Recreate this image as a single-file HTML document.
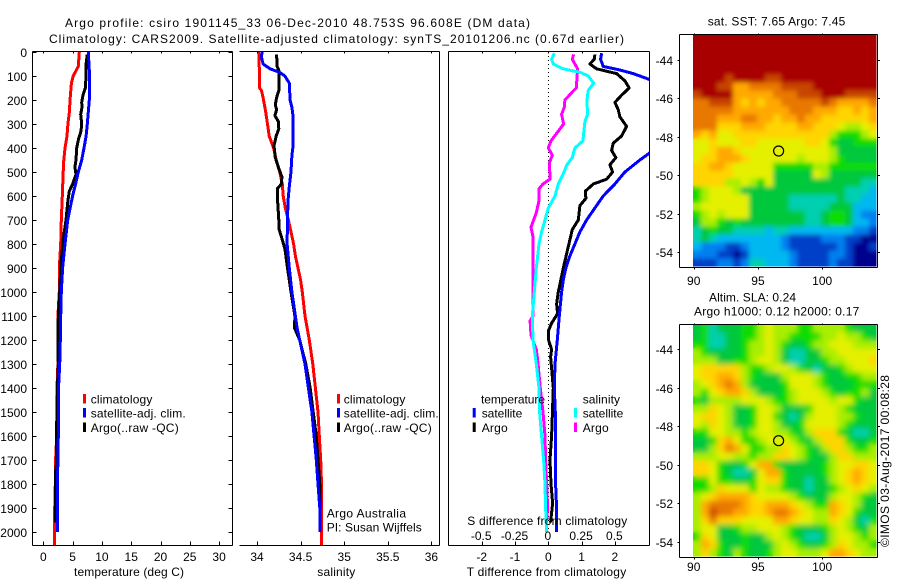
<!DOCTYPE html>
<html>
<head>
<meta charset="utf-8">
<title>Argo profile chart</title>
<style>
html,body{margin:0;padding:0;background:#fff;}
svg{display:block;}
text{font-family:"Liberation Sans",sans-serif;font-size:12px;fill:#000;}
</style>
</head>
<body>
<svg id="chart" xmlns="http://www.w3.org/2000/svg" width="900" height="580" viewBox="0 0 900 580">
<defs>
<clipPath id="clipT"><rect x="33" y="52" width="199" height="493"/></clipPath>
<clipPath id="clipS"><rect x="240" y="52" width="199" height="493"/></clipPath>
<clipPath id="clipD"><rect x="449" y="52" width="200" height="493"/></clipPath>
<clipPath id="clipM1"><rect x="693" y="35" width="183.5" height="231.5"/></clipPath>
<clipPath id="clipM2"><rect x="693" y="325" width="183.5" height="231.5"/></clipPath>
<filter id="softA" x="-5%" y="-5%" width="110%" height="110%"><feGaussianBlur stdDeviation="2.4"/></filter>
<filter id="softB" x="-5%" y="-5%" width="110%" height="110%"><feGaussianBlur stdDeviation="3"/></filter>
</defs>
<rect x="0" y="0" width="900" height="580" fill="#fff"/>
<text x="65" y="27" textLength="465">Argo profile: csiro 1901145_33 06-Dec-2010 48.753S 96.608E (DM data)</text>
<text x="49" y="43" textLength="575">Climatology: CARS2009. Satellite-adjusted climatology: synTS_20101206.nc (0.67d earlier)</text>
<g id="maps"></g>
<g id="lines"></g>
<g id="axes"></g>

<text x="74" y="576" textLength="110">temperature (deg C)</text>
<text x="317.3" y="576" textLength="38">salinity</text>
<text x="466.7" y="576" textLength="159.5">T difference from climatology</text>
<text x="467.3" y="525" textLength="160">S difference from climatology</text>

<g>
<rect x="83" y="394" width="3" height="9.5" fill="#f00"/>
<rect x="83" y="408" width="3" height="9.5" fill="#00f"/>
<rect x="83" y="422.5" width="3" height="9.5" fill="#000"/>
<text x="90.7" y="403.3" textLength="61.7">climatology</text>
<text x="90.7" y="417.5" textLength="95">satellite-adj. clim.</text>
<text x="90.7" y="432" textLength="88">Argo(..raw -QC)</text>
</g>
<g>
<rect x="337" y="394" width="3" height="9.5" fill="#f00"/>
<rect x="337" y="408" width="3" height="9.5" fill="#00f"/>
<rect x="337" y="422.5" width="3" height="9.5" fill="#000"/>
<text x="343.7" y="403.3" textLength="61.7">climatology</text>
<text x="343.7" y="417.5" textLength="95">satellite-adj. clim.</text>
<text x="343.7" y="432" textLength="88">Argo(..raw -QC)</text>
</g>
<text x="326.7" y="517.7" textLength="79.3">Argo Australia</text>
<text x="326.7" y="531.7" textLength="95">PI: Susan Wijffels</text>

<g>
<text x="481" y="403.3" textLength="64">temperature</text>
<text x="582.7" y="403.3" textLength="37.3">salinity</text>
<rect x="472.7" y="408" width="3" height="9.5" fill="#00f"/>
<rect x="472.7" y="422.5" width="3" height="9.5" fill="#000"/>
<rect x="574" y="408" width="3" height="9.5" fill="#0ff"/>
<rect x="574" y="422.5" width="3" height="9.5" fill="#f0f"/>
<text x="481.7" y="417.5" textLength="40.6">satellite</text>
<text x="481.7" y="432" textLength="26">Argo</text>
<text x="582.7" y="417.5" textLength="40.6">satellite</text>
<text x="582.7" y="432" textLength="26">Argo</text>
</g>

<text x="707.7" y="25.7" textLength="137.6">sat. SST: 7.65 Argo: 7.45</text>
<text x="709" y="301.7" textLength="87">Altim. SLA: 0.24</text>
<text x="694" y="315.7" textLength="165.3">Argo h1000: 0.12 h2000: 0.17</text>
<text transform="translate(889 547) rotate(-90)" x="0" y="0" textLength="172">©IMOS 03-Aug-2017 00:08:28</text>
</svg>
<script>
// ---- profile data: depth (m) and value, one small array per series ----
const depthTicks = [0,100,200,300,400,500,600,700,800,900,1000,1100,1200,1300,1400,1500,1600,1700,1800,1900,2000];
const tempTicks = [0,5,10,15,20,25,30];
const salTicks = [34,34.5,35,35.5,36];
const tDiffTicks = [-2,-1,0,1,2];
const sDiffTicks = [-0.5,-0.25,0,0.25,0.5];
const sDiffTickLabels = ["-0.5","-0.25","0","0.25","0.5"];
const lonTicks = [90,95,100];
const latTicks = [44,46,48,50,52,54];

const tempClimDepth = [0,60,100,130,200,250,300,350,400,450,500,600,700,800,900,1000,1100,1200,1300,1400,1600,1700,1800,1900,2056];
const tempClim = [6.15,5.97,5.1,4.8,4.55,4.45,4.2,4.05,3.7,3.5,3.4,3.25,3.07,2.97,2.73,2.73,2.5,2.5,2.5,2.34,2.28,2.1,2.05,1.95,1.95];
const tempSatDepth = [0,100,200,250,300,350,400,450,500,550,600,700,800,900,1000,1100,1200,1300,1400,1600,1700,1800,1900,2000];
const tempSat = [7.68,7.9,7.85,7.68,7.5,7.3,6.95,6.55,5.97,5.52,5.0,4.16,3.7,3.3,3.07,2.97,2.9,2.8,2.6,2.56,2.5,2.4,2.4,2.4];
const tempArgoDepth = [10,50,100,150,180,210,230,260,300,330,360,400,450,480,510,550,580,620,700,780,850,900,1000,1100,1200,1300,1400,1550,1700,1750,1900,1960];
const tempArgo = [7.5,7.3,7.3,7.17,6.77,6.55,6.6,6.38,6.55,6.43,6.04,5.7,5.58,5.4,5.58,5.0,4.44,4.2,3.87,3.4,3.14,2.97,2.8,2.56,2.5,2.56,2.4,2.28,2.28,2.1,2.1,2.1];

const salClimDepth = [0,100,150,160,190,250,300,350,400,450,500,550,600,650,700,750,800,850,900,950,1000,1100,1200,1300,1400,1500,1600,1700,1800,2056];
const salClim = [34.02,34.03,34.03,34.05,34.07,34.10,34.12,34.14,34.19,34.22,34.26,34.29,34.30,34.325,34.36,34.39,34.42,34.44,34.47,34.5,34.52,34.55,34.60,34.64,34.67,34.70,34.715,34.73,34.74,34.74];
const salSatDepth = [0,20,50,70,85,100,130,200,230,260,400,430,500,560,620,700,800,900,1000,1100,1150,1200,1300,1400,1500,1600,1700,1800,1900,2000];
const salSat = [34.06,34.05,34.07,34.15,34.26,34.32,34.37,34.38,34.40,34.41,34.41,34.40,34.39,34.37,34.355,34.35,34.345,34.37,34.40,34.44,34.46,34.49,34.55,34.59,34.63,34.655,34.68,34.70,34.72,34.725];
const salArgoDepth = [10,60,80,120,160,190,220,240,265,290,320,350,390,440,480,520,550,570,600,700,740,770,820,900,1000,1100,1150,1200,1300,1400,1500,1600,1700,1800,1900,1960];
const salArgo = [34.225,34.23,34.255,34.25,34.25,34.225,34.21,34.225,34.205,34.245,34.25,34.22,34.195,34.21,34.245,34.285,34.28,34.233,34.233,34.25,34.255,34.28,34.32,34.35,34.39,34.435,34.43,34.49,34.56,34.61,34.645,34.68,34.70,34.72,34.725,34.725];

const dTSatDepth = [5,30,60,75,90,110,130,200,300,400,425,450,500,550,600,650,700,750,800,850,900,950,1000,1100,1200,1300,1400,1500,1600,1800,1900,2000];
const dTSat = [1.6,1.57,1.65,2.15,2.55,2.95,3.3,3.8,3.8,3.2,3.0,2.75,2.3,2.0,1.65,1.4,1.15,0.95,0.8,0.65,0.53,0.45,0.4,0.33,0.27,0.2,0.18,0.21,0.22,0.22,0.25,0.24];
const dTArgoDepth = [10,30,50,70,90,120,150,180,210,240,270,310,350,380,410,440,470,500,530,550,580,610,640,700,740,800,900,1000,1050,1090,1130,1160,1200,1240,1270,1400,1600,1700,1800,1880,1960];
const dTArgo = [1.4,1.38,1.25,1.45,2.05,2.3,2.43,2.2,2.0,2.1,2.15,2.35,2.2,1.95,1.9,2.03,1.85,1.93,1.75,1.35,1.11,1.13,0.95,0.9,0.72,0.62,0.45,0.3,0.25,0.28,0.1,0.01,0.01,0.1,0.07,0.15,0.1,0.05,0.08,0.13,0.07];
const dSSatDepth = [5,30,50,70,85,100,130,160,200,260,290,370,400,440,470,510,550,600,650,700,750,800,900,1000,1100,1200,1300,1400,1500,1600,1700,1800,1900,2000];
const dSSat = [0.045,0.025,0.0375,0.11,0.24,0.3,0.34,0.3,0.29,0.295,0.275,0.26,0.2,0.18,0.14,0.11,0.075,0.05,0,-0.025,-0.05,-0.07,-0.09,-0.105,-0.12,-0.115,-0.09,-0.07,-0.065,-0.05,-0.035,-0.025,-0.02,-0.012];
const dSArgoDepth = [10,30,50,70,150,170,200,230,260,300,330,370,400,430,460,530,550,570,620,670,730,770,850,1000,1100,1120,1180,1240,1280,1400,1500,1600,1700,1800,1900,1970];
const dSArgo = [0.19,0.18,0.2,0.22,0.21,0.175,0.125,0.12,0.1,0.115,0.075,0.02,0,0.03,0.01,0.012,-0.04,-0.07,-0.07,-0.09,-0.13,-0.115,-0.115,-0.115,-0.115,-0.137,-0.13,-0.09,-0.08,-0.06,-0.04,-0.025,-0.02,-0.012,-0.005,-0.015];

// ---- map grids: each character is one cell's colour level, north at the top ----
const sstRows = [
"nnnnnnnnnnnnnnnnnnnnnnn","nnnnnnnnnnnnnnnnnnnnnnn","nnnnnnnnnnnnnnnnnnnnnnn","nnnnnnnnnnnnnnnnnnnnnnn","nnnnnnnnnnnnnnnnnnnnnnn",
"nnnnmnnnnmmnnnnnnnnnnnn","nnnmmkkllllmmmmnnnnnnnn","mnnnnkkkkklllmmmnnnmmmm","llmmmkjkjkklllllmlkkkkl","lllllkkkkkkklllkkkjjkjk",
"lllkkkllkkjkklkkjjjjjjk","llljjjkkkjjjjkkjjjihhij","kjkiijjjjjjjjjjjjhggghi","iijiiijjiiiiiijjigffggg","iijkkjiiiiiiiiiiihfffff",
"ijjkkkjiiiiiihiiihgffff","jjkkjiiiiiggggghhgggggg","jjjjjiiiiifffffihffffff","jjjjhhihgifffffffffffee","ghiiihfffffffffffffeeed",
"ghiiiiifffffeeeeeefeedd","hiiiiiifffffeeeeefffddd","ghihiiifffffffeefggfdcc","fhhgfgffffffffeefggfddc","efgffeeeedeeddddddddccb",
"efeddddddddcbbbbcccbbaa","dcccbbcddddcbbbbbbcbaab","cccbbabdddddcbbbbccbaaa","bbbccbceedddcbbbbcbbaaa"];
const slaRows = [
"fgefffgghihhhgghhhhgfff","fgeeffgghihhgggghhihhgf","ggeeffghhihgffghhiiihhh","hgffffghhihfeeffhhiiiii","hhhffgghiihfeeffghhiiij",
"ijjjjjhgghiihgfeffghiii","ijjkkjhgfffhiiihgffgghh","hijklkhffffgiiihgfffggg","hgijkkjhfffghiiihgfgghf","gfhhhhiiihgghiiiihiigff",
"hhjihffgiihfffgiiihgfff","ijjihffgiigfefhiiihhgff","ihjihffgiihffgiiiihgfff","ggiihhghiihhgfhjjjgfeef","ffgjkigghiiihgfhjjjgffg",
"ffhjlkigghhjihgfhjjhggh","hhhiihhghhjjihgffhjjhhh","jjigffgikkgfffffghiijji","jjigfeefikkgffffghijkji","ggiggffgijjgffeffhijkji",
"gghjiiigihhgffeffghijih","hijkkkkjiiiihgfffhiihgf","hkllllkjjkkkjihggkjihff","hkmllkkjjkllkjihhkjigff","hjljjjiiiikkjiihhjihfeg",
"hiiffghhiiihgfffghihgfh","gjifffgffhihgfeefhiihgh","hkjgffgfffhihgffghjihhg","hjhgfhgffghiihhhikkjihh"];
const levelColors = {a:"#00008f",b:"#0040c8",c:"#0080f0",d:"#00b8f0",e:"#00cfb0",f:"#00c83c",g:"#10dc00",h:"#a8ee00",i:"#e4f000",j:"#ffd400",k:"#ffa800",l:"#e87800",m:"#c84400",n:"#a80000"};

// ---- axis functions ----
const svg = document.getElementById('chart');
const NS = 'http://www.w3.org/2000/svg';
const yDepth = d => 52 + 0.24 * d;
const xTemp = t => 43.3 + 5.86 * t;
const xSal = s => 257 + 87.2 * (s - 34);
const xTDiff = t => 548.3 + 33.3 * t;
const xSDiff = s => 548.3 + 133.2 * s;
const lonX = lon => 693.7 + 12.85 * (lon - 90);
const latY1 = lat => 59.5 + 19.25 * (lat - 44);
const latY2 = lat => 349.2 + 19.25 * (lat - 44);
const gMaps = document.getElementById('maps');
const gLines = document.getElementById('lines');
const gAxes = document.getElementById('axes');

function shape(parent, tag, attrs) {
  const el = document.createElementNS(NS, tag);
  for (const k in attrs) el.setAttribute(k, attrs[k]);
  parent.appendChild(el);
  return el;
}
function axisLine(x1, y1, x2, y2, label) {
  const el = shape(gAxes, 'line', {x1: x1, y1: y1, x2: x2, y2: y2, stroke: '#000', 'stroke-width': 1, 'shape-rendering': 'crispEdges'});
  
  
  return el;
}
function tickText(x, y, str, anchor, label) {
  const el = shape(gAxes, 'text', {x: x, y: y, 'text-anchor': anchor});
  el.textContent = str;
  
  
  return el;
}
function profile(depths, values, xFn, color, clip, label) {
  const pts = depths.map((d, i) => xFn(values[i]).toFixed(1) + ',' + yDepth(d).toFixed(1)).join(' ');
  const el = shape(gLines, 'polyline', {points: pts, fill: 'none', stroke: color, 'stroke-width': 3, 'stroke-linejoin': 'round', 'shape-rendering': 'crispEdges', 'clip-path': 'url(#' + clip + ')'});
  
  
  return el;
}
function heatCells(parent, rows, top) {
  rows.forEach((row, r) => {
    for (let c = 0; c < row.length; c++) {
      const cell = shape(parent, 'rect', {x: 693 + 8 * c, y: top + 8 * r, width: 8.2, height: 8.2, fill: levelColors[row[c]]});
      
      
    }
  });
}
function map(rows, top, clip, blur, label) {
  const outer = shape(gMaps, 'g', {'clip-path': 'url(#' + clip + ')'});
  
  
  const base = shape(outer, 'g', {});
  
  
  heatCells(base, rows, top);
  const soft = shape(outer, 'g', {filter: 'url(#' + blur + ')'});
  
  
  heatCells(soft, rows, top);
}

// ---- maps ----
map(sstRows, 34.5, 'clipM1', 'softA', 'sst-heatmap');
map(slaRows, 324.5, 'clipM2', 'softB', 'sla-heatmap');

// ---- profile lines ----
const zeroLine = shape(gLines, 'line', {x1: xTDiff(0), y1: 52, x2: xTDiff(0), y2: yDepth(2000), stroke: '#000', 'stroke-width': 1, 'stroke-dasharray': '1 3', 'shape-rendering': 'crispEdges'});


profile(tempClimDepth, tempClim, xTemp, '#f00', 'clipT', 'temperature-climatology-line');
profile(tempArgoDepth, tempArgo, xTemp, '#000', 'clipT', 'temperature-argo-line');
profile(tempSatDepth, tempSat, xTemp, '#00f', 'clipT', 'temperature-satellite-line');
profile(salClimDepth, salClim, xSal, '#f00', 'clipS', 'salinity-climatology-line');
profile(salArgoDepth, salArgo, xSal, '#000', 'clipS', 'salinity-argo-line');
profile(salSatDepth, salSat, xSal, '#00f', 'clipS', 'salinity-satellite-line');
profile(dSArgoDepth, dSArgo, xSDiff, '#f0f', 'clipD', 's-difference-argo-line');
profile(dSSatDepth, dSSat, xSDiff, '#0ff', 'clipD', 's-difference-satellite-line');
profile(dTArgoDepth, dTArgo, xTDiff, '#000', 'clipD', 't-difference-argo-line');
profile(dTSatDepth, dTSat, xTDiff, '#00f', 'clipD', 't-difference-satellite-line');

// ---- panel frames ----
const B = 545.5, T = 51.5;
axisLine(32.5, T, 232.5, T, 'temperature-top-axis');
axisLine(32.5, B, 232.5, B, 'temperature-bottom-axis');
axisLine(32.5, T, 32.5, B, 'depth-axis');
axisLine(232.5, T, 232.5, B, 'temperature-right-axis');
axisLine(239.5, T, 439.5, T, 'salinity-top-axis');
axisLine(239.5, B, 439.5, B, 'salinity-bottom-axis');
axisLine(439.5, T, 439.5, B, 'salinity-right-axis');
axisLine(448.5, T, 649.5, T, 'difference-top-axis');
axisLine(448.5, B, 649.5, B, 'difference-bottom-axis');
axisLine(448.5, T, 448.5, B, 'difference-left-axis');
axisLine(649.5, T, 649.5, B, 'difference-right-axis');

depthTicks.forEach(d => {
  const y = Math.round(yDepth(d)) + 0.5;
  axisLine(32.5, y, 36.5, y, 'depth-tick');
  axisLine(228.5, y, 232.5, y, 'depth-tick-right');
  tickText(27, y + 4.5, String(d), 'end', 'depth-tick-label');
});
tempTicks.forEach(v => {
  const x = Math.round(xTemp(v)) + 0.5;
  axisLine(x, T, x, T + 2, 'temperature-tick-top');
  axisLine(x, B - 4, x, B, 'temperature-tick');
  tickText(xTemp(v), 561, String(v), 'middle', 'temperature-tick-label');
});
salTicks.forEach(v => {
  const x = Math.round(xSal(v)) + 0.5;
  axisLine(x, T, x, T + 2, 'salinity-tick-top');
  axisLine(x, B - 4, x, B, 'salinity-tick');
  tickText(xSal(v), 561, String(v), 'middle', 'salinity-tick-label');
});
tDiffTicks.forEach(v => {
  const x = Math.round(xTDiff(v)) + 0.5;
  axisLine(x, T, x, T + 2, 'difference-tick-top');
  axisLine(x, B - 4, x, B, 'difference-tick');
  tickText(xTDiff(v), 561, String(v), 'middle', 't-difference-tick-label');
});
sDiffTicks.forEach((v, i) => {
  tickText(xSDiff(v) - 0.5, 540, sDiffTickLabels[i], 'middle', 's-difference-tick-label');
});

// ---- map frames ----
function mapFrame(top, bottom, yFn, xLabelY, label) {
  axisLine(679.5, top, 877.5, top, label + '-top-axis');
  axisLine(679.5, bottom, 877.5, bottom, label + '-bottom-axis');
  axisLine(679.5, top, 679.5, bottom, label + '-left-axis');
  axisLine(877.5, top, 877.5, bottom, label + '-right-axis');
  lonTicks.forEach(v => {
    const x = Math.round(lonX(v)) + 0.5;
    axisLine(x, top - 1, x, top, label + '-longitude-tick-top');
    axisLine(x, bottom, x, bottom + 2, label + '-longitude-tick');
    tickText(lonX(v), xLabelY, String(v), 'middle', label + '-longitude-label');
  });
  latTicks.forEach(v => {
    const y = Math.round(yFn(v)) + 0.5;
    axisLine(877.5, y, 880, y, label + '-latitude-tick');
    axisLine(679.5, y, 677.5, y, label + '-latitude-tick-left');
    tickText(673, y + 4.5, '-' + v, 'end', label + '-latitude-label');
  });
  const ring = shape(gAxes, 'circle', {cx: lonX(96.608), cy: yFn(48.753), r: 5, fill: 'none', stroke: '#000', 'stroke-width': 1.2});
  
  
}
mapFrame(34.5, 267.5, latY1, 285, 'sst-map');
mapFrame(324.5, 557.5, latY2, 571, 'sla-map');
</script>
</body>
</html>
